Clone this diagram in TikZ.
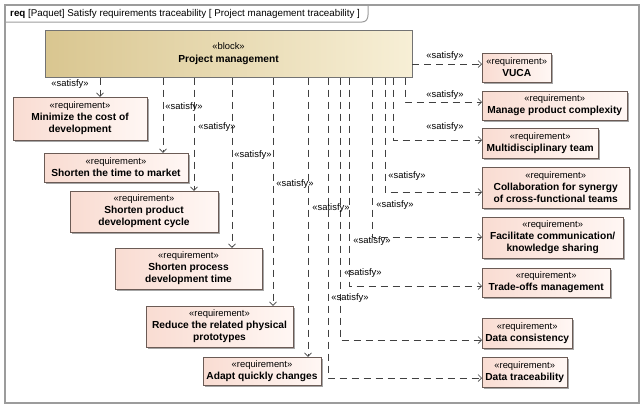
\documentclass[tikz,border=0pt]{standalone}
\usepackage{fontspec}
\setmainfont{Liberation Sans}
\usetikzlibrary{arrows.meta,shadows}

\definecolor{framegray}{HTML}{9C9C9C}
\definecolor{blockL}{HTML}{D9C690}
\definecolor{blockR}{HTML}{F7EFD6}
\definecolor{reqL}{HTML}{F9DCD2}
\definecolor{reqR}{HTML}{FFF7F4}
\definecolor{reqedge}{HTML}{6B5B55}

\newcommand{\reqtxt}[1]{{\normalfont\fontsize{9.4}{11}\selectfont «requirement»}\\#1}

\tikzset{
  block/.style={draw=black!55, left color=blockL, right color=blockR,
    inner sep=0pt, align=center},
  req/.style={draw=reqedge, left color=reqL, right color=reqR, inner sep=0pt,
    align=center, font=\bfseries\fontsize{10.2}{12}\selectfont,
    drop shadow={shadow xshift=1.5pt, shadow yshift=-1.5pt, fill=black, opacity=0.35}},
  sat/.style={draw=black!75, line width=0.6pt, dash pattern=on 7pt off 5pt,
    -{Straight Barb[length=3.5pt,width=7pt]}},
  satlbl/.style={font=\fontsize{9.4}{10}\selectfont, inner sep=0pt},
}

\begin{document}
\begin{tikzpicture}[x=1pt, y=-1pt]
  \useasboundingbox (0,0) rectangle (641,405);
  % Define frame
  \draw[framegray, line width=1.2pt] (5,5) rectangle (639,403);
  \draw[framegray, line width=1pt] (5,22) -- (362,22) .. controls (366,22) and (368,19) .. (368,15) -- (368,5);
  \node[anchor=west, inner sep=0pt, font=\fontsize{9.8}{11}\selectfont] (title) at (10,13.5)
    {\textbf{req} [Paquet] Satisfy requirements traceability [ Project management traceability ]};
  % Define nodes
  \node[block, minimum width=367pt, minimum height=47pt] (pm) at (228.5,54)
    {{\fontsize{9.4}{11}\selectfont «block»}\\[1pt]{\bfseries\fontsize{10.2}{12}\selectfont Project management}};
  \node[req, minimum width=134pt, minimum height=43pt] (cost) at (80,118.5) {\reqtxt{Minimize the cost of\\development}};
  \node[req, minimum width=144pt, minimum height=29pt] (ttm) at (116,167.5) {\reqtxt{Shorten the time to market}};
  \node[req, minimum width=148pt, minimum height=41pt] (cycle) at (144,211.5) {\reqtxt{Shorten product\\development cycle}};
  \node[req, minimum width=147pt, minimum height=41pt] (proc) at (188.5,268.5) {\reqtxt{Shorten process\\development time}};
  \node[req, minimum width=147pt, minimum height=41pt] (proto) at (219.5,326.5) {\reqtxt{Reduce the related physical\\prototypes}};
  \node[req, minimum width=118pt, minimum height=28pt] (adapt) at (262,371) {\reqtxt{Adapt quickly changes}};
  \node[req, minimum width=69pt, minimum height=29pt, anchor=west] (vuca) at (482,67.5) {\reqtxt{VUCA}};
  \node[req, minimum width=145pt, minimum height=29pt, anchor=west] (cplx) at (482,105.5) {\reqtxt{Manage product complexity}};
  \node[req, minimum width=116pt, minimum height=30pt, anchor=west] (team) at (482,143) {\reqtxt{Multidisciplinary team}};
  \node[req, minimum width=147pt, minimum height=41pt, anchor=west] (collab) at (482,187.5) {\reqtxt{Collaboration for synergy\\of cross-functional teams}};
  \node[req, minimum width=141pt, minimum height=41pt, anchor=west] (comm) at (482,237.5) {\reqtxt{Facilitate communication/\\knowledge sharing}};
  \node[req, minimum width=128pt, minimum height=29pt, anchor=west] (trade) at (482,282.5) {\reqtxt{Trade-offs management}};
  \node[req, minimum width=90pt, minimum height=30pt, anchor=west] (dcons) at (482,333) {\reqtxt{Data consistency}};
  \node[req, minimum width=85pt, minimum height=30pt, anchor=west] (dtrace) at (482,372) {\reqtxt{Data traceability}};
  % Define satisfy edges (left)
  \draw[sat] (pm.south -| 100,0) -- (cost.north -| 100,0);
  \draw[sat] (pm.south -| 163,0) -- (ttm.north -| 163,0);
  \draw[sat] (pm.south -| 194,0) -- (cycle.north -| 194,0);
  \draw[sat] (pm.south -| 232,0) -- (proc.north -| 232,0);
  \draw[sat] (pm.south -| 273,0) -- (proto.north -| 273,0);
  \draw[sat] (pm.south -| 308,0) -- (adapt.north -| 308,0);
  % Define satisfy edges (right)
  \draw[sat] (pm.east |- 0,64) -- (vuca.west |- 0,64);
  \draw[sat] (pm.south -| 405,0) |- (cplx.west |- 0,102);
  \draw[sat] (pm.south -| 393,0) |- (team.west |- 0,140);
  \draw[sat] (pm.south -| 385,0) |- (collab.west |- 0,192);
  \draw[sat] (pm.south -| 372,0) |- (comm.west |- 0,237);
  \draw[sat] (pm.south -| 349,0) |- (trade.west |- 0,286);
  \draw[sat] (pm.south -| 340,0) |- (dcons.west |- 0,340);
  \draw[sat] (pm.south -| 328,0) |- (dtrace.west |- 0,378);
  % Define edge labels
  \node[satlbl] (l1) at (70,84) {«satisfy»};
  \node[satlbl] (l2) at (184,107) {«satisfy»};
  \node[satlbl] (l3) at (217,127) {«satisfy»};
  \node[satlbl] (l4) at (253,155) {«satisfy»};
  \node[satlbl] (l5) at (295,184) {«satisfy»};
  \node[satlbl] (l6) at (331,208) {«satisfy»};
  \node[satlbl] (l7) at (445,56) {«satisfy»};
  \node[satlbl] (l8) at (445,95) {«satisfy»};
  \node[satlbl] (l9) at (445,127) {«satisfy»};
  \node[satlbl] (l10) at (407,176) {«satisfy»};
  \node[satlbl] (l11) at (395,205) {«satisfy»};
  \node[satlbl] (l12) at (372,241) {«satisfy»};
  \node[satlbl] (l13) at (363,273) {«satisfy»};
  \node[satlbl] (l14) at (350,298) {«satisfy»};
\end{tikzpicture}
\end{document}
